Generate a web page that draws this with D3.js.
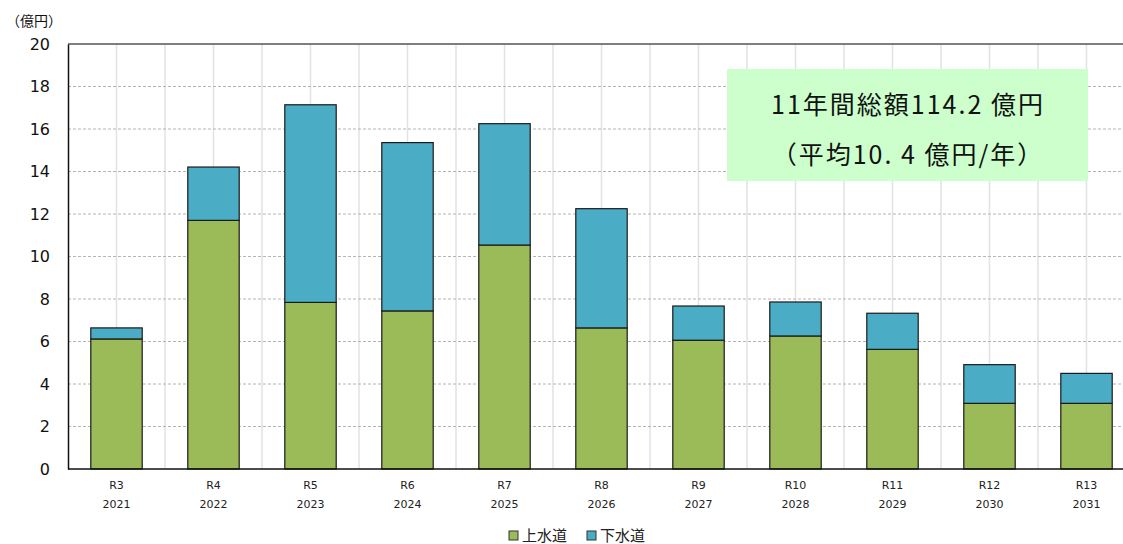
<!DOCTYPE html>
<html>
<head>
<meta charset="utf-8">
<script src="https://cdn.jsdelivr.net/npm/d3@7"></script>
<style>
  body { margin: 0; background: #fff; }
  svg { display: block; }
</style>
</head>
<body>
<div id="viz"></div>
<script>
// data (億円)
var eras = ['R3', 'R4', 'R5', 'R6', 'R7', 'R8', 'R9', 'R10', 'R11', 'R12', 'R13'];
var years = ['2021', '2022', '2023', '2024', '2025', '2026', '2027', '2028', '2029', '2030', '2031'];
var water = [6.12, 11.70, 7.84, 7.44, 10.54, 6.64, 6.06, 6.26, 5.63, 3.09, 3.09];
var sewer = [0.52, 2.51, 9.30, 7.92, 5.71, 5.61, 1.61, 1.60, 1.70, 1.82, 1.41];
var seriesNames = ['上水道', '下水道'];
var seriesColors = ['#9bbb59', '#4bacc6'];
var yTicks = [0, 2, 4, 6, 8, 10, 12, 14, 16, 18, 20];

var width = 1123, height = 544;
var margin = {top: 44, right: -12, bottom: 75, left: 68};
var numFont = '"DejaVu Sans", Verdana, sans-serif';
var jpFont = '"Noto Sans CJK JP", sans-serif';

var rows = eras.map(function(e, i) {
  return {era: e, year: years[i], water: water[i], sewer: sewer[i]};
});
var stack = d3.stack().keys(['water', 'sewer'])(rows);

var x = d3.scaleBand()
  .domain(d3.range(eras.length))
  .range([margin.left, width - margin.right])
  .paddingInner(0.47)
  .paddingOuter(0.235);

var y = d3.scaleLinear()
  .domain([0, 20])
  .range([height - margin.bottom, margin.top]);

var step = x.step();
var svg = d3.select('#viz').append('svg')
  .attr('width', width)
  .attr('height', height);

// vertical light grid at every half category
var half = d3.range(eras.length * 2 + 1).map(function(k) { return margin.left + k * step / 2; });
svg.append('g')
  .selectAll('line')
  .data(half.slice(1))
  .join('line')
  .attr('x1', d => d).attr('x2', d => d)
  .attr('y1', y(20)).attr('y2', y(0))
  .attr('stroke', '#e2e2e2')
  .attr('stroke-width', 1.5);

// horizontal dashed grid
svg.append('g')
  .selectAll('line')
  .data(yTicks.filter(d => d > 0 && d < 20))
  .join('line')
  .attr('x1', margin.left).attr('x2', width)
  .attr('y1', d => y(d)).attr('y2', d => y(d))
  .attr('stroke', '#b4b4b4')
  .attr('stroke-width', 1)
  .attr('stroke-dasharray', '3,2');

// top border
svg.append('line')
  .attr('x1', margin.left).attr('x2', width)
  .attr('y1', y(20)).attr('y2', y(20))
  .attr('stroke', '#555').attr('stroke-width', 1.5);

// stacked bars
svg.append('g')
  .selectAll('g')
  .data(stack)
  .join('g')
  .attr('fill', (d, i) => seriesColors[i])
  .selectAll('rect')
  .data(d => d)
  .join('rect')
  .attr('x', (d, i) => x(i))
  .attr('width', x.bandwidth())
  .attr('y', d => y(d[1]))
  .attr('height', d => y(d[0]) - y(d[1]))
  .attr('stroke', '#1a1a1a')
  .attr('stroke-width', 1.2);

// axes
var yAxis = svg.append('g')
  .attr('transform', 'translate(' + margin.left + ',0)')
  .call(d3.axisLeft(y).tickValues(yTicks).tickSize(0).tickPadding(18));
yAxis.select('.domain').attr('stroke', '#111').attr('stroke-width', 1.5);
yAxis.selectAll('text')
  .attr('font-family', numFont)
  .attr('font-size', 16)
  .attr('fill', '#111');

svg.append('line')
  .attr('x1', margin.left).attr('x2', width)
  .attr('y1', y(0)).attr('y2', y(0))
  .attr('stroke', '#111').attr('stroke-width', 1.5);

var xl = svg.append('g')
  .selectAll('text')
  .data(rows)
  .join('text')
  .attr('x', (d, i) => x(i) + x.bandwidth() / 2)
  .attr('text-anchor', 'middle')
  .attr('font-family', numFont)
  .attr('font-size', 11)
  .attr('fill', '#222');
xl.append('tspan').attr('x', (d, i) => x(i) + x.bandwidth() / 2).attr('y', y(0) + 20).text(d => d.era);
xl.append('tspan').attr('x', (d, i) => x(i) + x.bandwidth() / 2).attr('y', y(0) + 39).text(d => d.year);

// unit label
svg.append('text')
  .attr('x', 6).attr('y', 26)
  .attr('font-family', jpFont)
  .attr('font-size', 14)
  .attr('fill', '#111')
  .text('（億円）');

// total box
svg.append('rect')
  .attr('x', 727).attr('y', 69)
  .attr('width', 361).attr('height', 112)
  .attr('fill', '#ccffcc');
svg.append('text')
  .attr('x', 908).attr('y', 114)
  .attr('text-anchor', 'middle')
  .attr('font-family', jpFont)
  .attr('font-size', 25)
  .attr('letter-spacing', 2)
  .attr('fill', '#111')
  .text('11年間総額114.2 億円');
svg.append('text')
  .attr('x', 908).attr('y', 164)
  .attr('text-anchor', 'middle')
  .attr('font-family', jpFont)
  .attr('font-size', 25)
  .attr('letter-spacing', 2)
  .attr('fill', '#111')
  .text('（平均10. 4 億円/年）');

// legend
var legend = svg.append('g')
  .selectAll('g')
  .data(seriesNames)
  .join('g')
  .attr('transform', (d, i) => 'translate(' + (509 + i * 78) + ',531)');
legend.append('rect')
  .attr('width', 9).attr('height', 9)
  .attr('fill', (d, i) => seriesColors[i])
  .attr('stroke', '#333').attr('stroke-width', 1);
legend.append('text')
  .attr('x', 13).attr('y', 10)
  .attr('font-family', jpFont)
  .attr('font-size', 15)
  .attr('fill', '#222')
  .text(d => d);
</script>
</body>
</html>
